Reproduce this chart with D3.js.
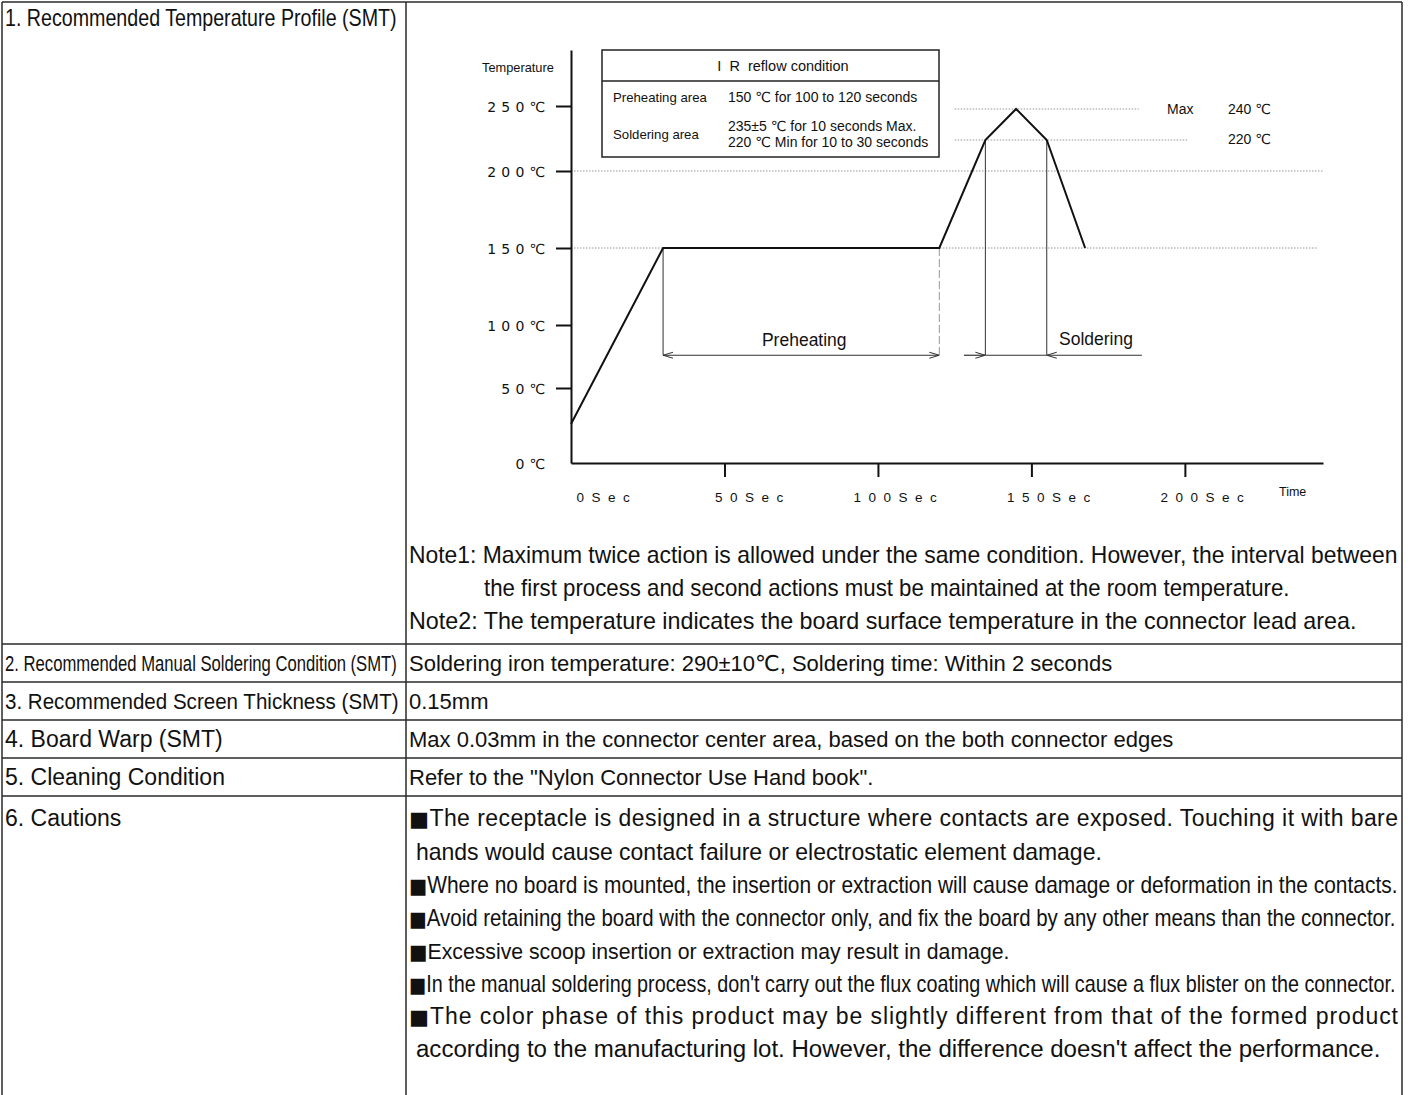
<!DOCTYPE html>
<html>
<head>
<meta charset="utf-8">
<script src="https://cdn.jsdelivr.net/npm/d3@7"></script>
<style>
	html, body { margin: 0; padding: 0; background: #fff; }
	svg { display: block; }
	text { font-family: "Liberation Sans", Arial, "DejaVu Sans", sans-serif; fill: #111; }
</style>
</head>
<body>
<svg id="chart" width="1418" height="1095"></svg>
<script>
// Perfil de temperatura (segundos -> ℃)
const profileTime = [0, 30, 120, 135, 145, 155, 167.5];
const profileTemp = [26, 150, 150, 220, 240, 220, 150];

// Marcas de los ejes
const tempTicks = [0, 50, 100, 150, 200, 250];
const timeTicks = [0, 50, 100, 150, 200];

// Líneas punteadas de referencia
const refTemps = [240, 220, 200, 150];
const refStart = [125, 125, 0, 0];
const refEnd = [185, 201, 245, 243];

// Líneas verticales bajo el perfil
const dropTimes = [30, 120, 135, 155];
const dropTemps = [150, 150, 220, 220];

// Tabla "IR reflow condition"
const legendTitle = "I  R  reflow condition";
const legendRows = ["Preheating area", "Soldering area"];
const legendValues = [["150 ℃ for 100 to 120 seconds"], ["235±5 ℃ for 10 seconds Max.", "220 ℃ Min for 10 to 30 seconds"]];

// Textos de la tabla principal
const itemLabels = [
	"1. Recommended Temperature Profile (SMT)",
	"2. Recommended Manual Soldering Condition (SMT)",
	"3. Recommended Screen Thickness (SMT)",
	"4. Board Warp (SMT)",
	"5. Cleaning Condition",
	"6. Cautions"
];
const noteLines = [
	"Note1: Maximum twice action is allowed under the same condition. However, the interval between",
	"the first process and second actions must be maintained at the room temperature.",
	"Note2: The temperature indicates the board surface temperature in the connector lead area."
];
const itemValues = [
	"Soldering iron temperature: 290±10℃, Soldering time: Within 2 seconds",
	"0.15mm",
	"Max 0.03mm in the connector center area, based on the both connector edges",
	"Refer to the \"Nylon Connector Use Hand book\"."
];
const cautionLines = [
	"■The receptacle is designed in a structure where contacts are exposed. Touching it with bare",
	"hands would cause contact failure or electrostatic element damage.",
	"■Where no board is mounted, the insertion or extraction will cause damage or deformation in the contacts.",
	"■Avoid retaining the board with the connector only, and fix the board by any other means than the connector.",
	"■Excessive scoop insertion or extraction may result in damage.",
	"■In the manual soldering process, don't carry out the flux coating which will cause a flux blister on the connector.",
	"■The color phase of this product may be slightly different from that of the formed product",
	"according to the manufacturing lot. However, the difference doesn't affect the performance."
];

const svg = d3.select("#chart");

/**
 * Dibuja un texto; si se indica un ancho, lo ajusta:
 * "spacing" reparte el espacio (justificado), si no se comprime con scale()
 */
function addText(parent, txt, x, y, size, width, adjust) {
	const t = parent.append("text")
		.attr("x", x)
		.attr("y", y)
		.attr("font-size", size)
		.style("white-space", "pre");
	if (txt.startsWith("■")) {
		t.append("tspan").style("font-family", "\"DejaVu Sans\", sans-serif").attr("font-size", size * 0.92).text("■");
		t.append("tspan").text(txt.slice(1));
	} else {
		t.text(txt);
	}
	if (width) {
		const natural = t.node().getComputedTextLength();
		if (adjust === "spacing" && natural < width) {
			t.attr("textLength", width).attr("lengthAdjust", "spacing");
		} else {
			const k = width / natural;
			t.attr("x", 0).attr("y", 0)
				.attr("transform", `translate(${x},${y}) scale(${k},1)`);
		}
	}
	return t;
}

/**
 * Bordes y textos de la tabla
 */
function renderTabla() {
	const g = svg.append("g");
	const left = 2, mid = 406, right = 1402, bottom = 1095;
	const rowLines = [644, 682, 720, 758, 796];

	const borde = (x1, y1, x2, y2) => g.append("line")
		.attr("x1", x1).attr("y1", y1).attr("x2", x2).attr("y2", y2)
		.attr("stroke", "#2a2a2a").attr("stroke-width", 1.5);

	borde(left, 2, right, 2);
	borde(left, 2, left, bottom);
	borde(mid, 2, mid, bottom);
	borde(right, 2, right, bottom);
	rowLines.forEach(yy => borde(left, yy, right, yy));

	// Columna izquierda
	const labelY = [26, 671, 709, 747, 785, 826];
	const labelW = [392, 392, 394, null, null, null];
	itemLabels.forEach((d, i) => addText(g, d, 5, labelY[i], 23, labelW[i]));

	// Notas de la fila 1
	const noteX = [409, 484, 409];
	const noteY = [563, 596, 629];
	const noteW = [989, 806, 948];
	noteLines.forEach((d, i) => addText(g, d, noteX[i], noteY[i], 23, noteW[i]));

	// Filas 2-5
	itemValues.forEach((d, i) => addText(g, d, 409, 671 + i * 38, 22, null));

	// Precauciones
	const cauX = [409, 416, 409, 409, 409, 409, 409, 416];
	const cauW = [989, 686, 989, 987, 601, 987, 989, 965];
	const cauAdj = ["spacing", null, null, null, null, null, "spacing", null];
	const cauY = [826, 860, 893, 926, 959, 992, 1024, 1057];
	cautionLines.forEach((d, i) => addText(g, d, cauX[i], cauY[i], 23, cauW[i], cauAdj[i]));
}

/**
 * Gráfico del perfil de temperatura
 */
function renderGrafico() {
	const g = svg.append("g");
	const x = d3.scaleLinear().domain([0, 245]).range([571, 1323]);
	// Eje de temperatura no lineal tal como aparece en el dibujo original
	const y = d3.scaleLinear()
		.domain([0, 50, 100, 150, 200, 220, 240, 250, 292])
		.range([463, 388, 325, 248, 171, 140, 109, 106, 50]);

	// Líneas punteadas
	g.selectAll("line.ref")
		.data(refTemps)
		.enter()
		.append("line")
		.attr("class", "ref")
		.attr("x1", (d, i) => x(refStart[i]))
		.attr("x2", (d, i) => x(refEnd[i]))
		.attr("y1", d => y(d))
		.attr("y2", d => y(d))
		.attr("stroke", "#8a8a8a")
		.attr("stroke-width", 0.9)
		.attr("stroke-dasharray", "1.5,1.5");

	// Eje Y
	const yAxis = d3.axisLeft(y).tickValues(tempTicks).tickSize(15).tickSizeOuter(0)
		.tickFormat(d => d + "℃");
	const gy = g.append("g").attr("transform", "translate(571,0)").call(yAxis);
	gy.select(".domain").attr("stroke", "#111").attr("stroke-width", 2);
	gy.selectAll(".tick line").attr("stroke", "#111").attr("stroke-width", 2)
		.filter(d => d === 0).remove();
	gy.selectAll(".tick text")
		.attr("x", -20.5)
		.attr("dy", "0.36em")
		.attr("font-size", 14)
		.attr("letter-spacing", 5.2)
		.attr("fill", "#111")
		.style("font-family", "\"DejaVu Sans\", sans-serif");

	// Eje X
	const xAxis = d3.axisBottom(x).tickValues(timeTicks).tickSize(14).tickSizeOuter(0)
		.tickFormat(d => d + "Sec");
	const gx = g.append("g").attr("transform", "translate(0,463)").call(xAxis);
	gx.select(".domain").attr("stroke", "#111").attr("stroke-width", 2);
	gx.selectAll(".tick line").attr("stroke", "#111").attr("stroke-width", 2)
		.filter(d => d === 0).remove();
	gx.selectAll(".tick text")
		.attr("text-anchor", "start")
		.attr("x", d => 20 - String(d).length * 15)
		.attr("y", 39)
		.attr("dy", 0)
		.attr("font-size", 13.5)
		.attr("letter-spacing", 7.5)
		.attr("fill", "#111");

	addText(g, "Temperature", 482, 72, 12.8, null);
	addText(g, "Time", 1279, 496, 12.5, null);

	// Líneas verticales
	g.selectAll("line.drop")
		.data(dropTimes)
		.enter()
		.append("line")
		.attr("class", "drop")
		.attr("x1", d => x(d))
		.attr("x2", d => x(d))
		.attr("y1", (d, i) => y(dropTemps[i]))
		.attr("y2", y(76))
		.attr("stroke", (d, i) => i === 1 ? "#999" : "#333")
		.attr("stroke-width", 1)
		.attr("stroke-dasharray", (d, i) => i === 1 ? "8,3" : null);

	// Curva del perfil
	const line = d3.line().x(d => x(d[0])).y(d => y(d[1]));
	g.append("path")
		.datum(d3.zip(profileTime, profileTemp))
		.attr("d", line)
		.attr("fill", "none")
		.attr("stroke", "#111")
		.attr("stroke-width", 2)
		.attr("stroke-linejoin", "miter");

	// Flechas
	const defs = svg.append("defs");
	defs.append("marker")
		.attr("id", "punta")
		.attr("viewBox", "0 0 10 10")
		.attr("refX", 10).attr("refY", 5)
		.attr("markerWidth", 10).attr("markerHeight", 10)
		.attr("markerUnits", "userSpaceOnUse")
		.attr("orient", "auto-start-reverse")
		.append("path")
		.attr("d", "M0,2 L10,5 L0,8")
		.attr("fill", "none")
		.attr("stroke", "#333")
		.attr("stroke-width", 1);

	const ay = y(76);
	const flecha = (t1, t2, inicio, fin) => {
		const l = g.append("line")
			.attr("x1", x(t1)).attr("x2", x(t2))
			.attr("y1", ay).attr("y2", ay)
			.attr("stroke", "#333").attr("stroke-width", 1.2);
		if (inicio) l.attr("marker-start", "url(#punta)");
		if (fin) l.attr("marker-end", "url(#punta)");
	};
	flecha(30, 120, true, true);
	flecha(128, 135, false, true);
	flecha(135, 155, false, false);
	flecha(155, 186, true, false);

	addText(g, "Preheating", x(76), ay - 9, 17.5, null).attr("text-anchor", "middle");
	addText(g, "Soldering", x(159), ay - 10, 17.5, null);

	// Etiquetas de máximo
	addText(g, "Max", 1167, 114, 14, null);
	addText(g, "240 ℃", 1228, 114, 14, null);
	addText(g, "220 ℃", 1228, 144, 14, null);

	// Cuadro IR reflow
	const box = g.append("g");
	box.append("rect")
		.attr("x", 602).attr("y", 50)
		.attr("width", 337).attr("height", 107)
		.attr("fill", "#fff")
		.attr("stroke", "#222").attr("stroke-width", 1.5);
	box.append("line")
		.attr("x1", 602).attr("x2", 939).attr("y1", 81).attr("y2", 81)
		.attr("stroke", "#222").attr("stroke-width", 1.5);
	addText(box, legendTitle, 783, 71, 14.5, null).attr("text-anchor", "middle");
	const rowY = [102, 139];
	legendRows.forEach((d, i) => addText(box, d, 613, rowY[i], 13.2, null));
	const valY = [[102], [131, 147]];
	legendValues.forEach((vals, i) => vals.forEach((v, j) => addText(box, v, 728, valY[i][j], 14, null)));
}

renderTabla();
renderGrafico();
</script>
</body>
</html>
